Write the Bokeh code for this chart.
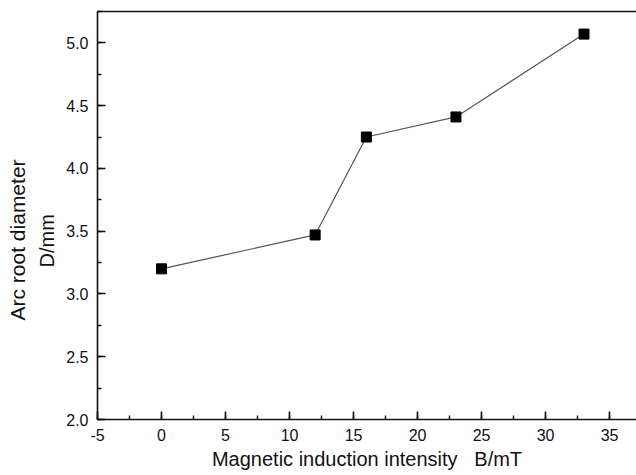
from bokeh.plotting import figure
from bokeh.models import SingleIntervalTicker, LinearAxis, Range1d, PrintfTickFormatter, FixedTicker, Title
from bokeh.embed import file_html
from bokeh.resources import INLINE

# data
magnetic_field = [0, 12, 16, 23, 33]                # B / mT
arc_root_diameter = [3.20, 3.47, 4.25, 4.41, 5.07]  # D / mm

x_title = "Magnetic induction intensity \u00a0 B/mT"
y_title_1 = "Arc root diameter"
y_title_2 = "D/mm"

FONT = "Liberation Sans"
INK = "#111111"

p = figure(width=636, height=475, output_backend="svg", toolbar_location=None,
           x_range=Range1d(-5, 37.1), y_range=Range1d(2.0, 5.25),
           x_axis_location=None, y_axis_location=None,
           min_border_left=97, min_border_right=0, min_border_top=11, min_border_bottom=56)
p.grid.visible = False
p.outline_line_color = None
p.background_fill_color = "white"
p.border_fill_color = "white"


def style(ax):
    ax.axis_line_color = INK
    ax.axis_line_width = 1.6
    ax.major_tick_line_color = INK
    ax.major_tick_line_width = 1.6
    ax.minor_tick_line_color = INK
    ax.minor_tick_line_width = 1.4
    ax.major_tick_in = 8
    ax.major_tick_out = 0
    ax.minor_tick_in = 4
    ax.minor_tick_out = 0
    ax.major_label_text_font = FONT
    ax.major_label_text_font_size = "16px"
    ax.major_label_text_color = INK
    ax.axis_label_text_font = FONT
    ax.axis_label_text_font_size = "20px"
    ax.axis_label_text_font_style = "normal"
    ax.axis_label_text_color = INK


xaxis = LinearAxis(ticker=SingleIntervalTicker(interval=5, num_minor_ticks=2),
                   formatter=PrintfTickFormatter(format="%d"), axis_label=x_title)
style(xaxis)
xaxis.major_label_standoff = 9
xaxis.axis_label_standoff = 4
p.add_layout(xaxis, "below")

yaxis = LinearAxis(ticker=SingleIntervalTicker(interval=0.5, num_minor_ticks=2),
                   formatter=PrintfTickFormatter(format="%.1f"))
style(yaxis)
yaxis.major_label_standoff = 9
p.add_layout(yaxis, "left")

top = LinearAxis(ticker=FixedTicker(ticks=[]), major_label_standoff=0, axis_label_standoff=0)
style(top)
top.major_label_text_font_size = "0px"
p.add_layout(top, "above")

# two-line y title, as in the reference
p.add_layout(Title(text=y_title_2, align="left", offset=152, standoff=11,
                   text_font=FONT, text_font_size="20px", text_font_style="normal",
                   text_color=INK), "left")
p.add_layout(Title(text=y_title_1, align="left", offset=99, standoff=0,
                   text_font=FONT, text_font_size="21px", text_font_style="normal",
                   text_color=INK), "left")

p.line(magnetic_field, arc_root_diameter, line_color="#555555", line_width=1.2)
p.scatter(magnetic_field, arc_root_diameter, marker="square", size=10,
          fill_color="black", line_color="black")

open("out.html", "w").write(file_html(p, INLINE))
